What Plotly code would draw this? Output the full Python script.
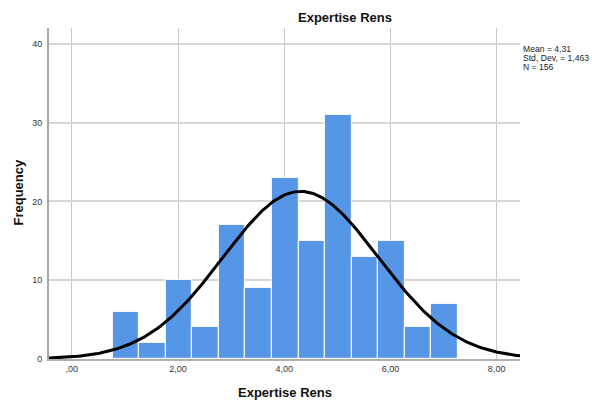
import numpy as np
import plotly.graph_objects as go

# Histogram of "Expertise Rens": bin edges start at 0.77, width 0.5
bin_start = 0.77
bin_width = 0.5
counts = [6, 2, 10, 4, 17, 9, 23, 15, 31, 13, 15, 4, 7]

# Descriptive statistics shown in the legend box
mean_val = 4.31
std_val = 1.463
n_val = 156

x_ticks = [0, 2, 4, 6, 8]
x_tick_text = [",00", "2,00", "4,00", "6,00", "8,00"]
y_ticks = [0, 10, 20, 30, 40]

x_range = [-0.43, 8.44]
y_range = [0, 42]

centers = [bin_start + bin_width * (i + 0.5) for i in range(len(counts))]

# Fitted normal curve scaled to the histogram counts
xc = np.linspace(x_range[0], x_range[1], 300)
yc = n_val * bin_width / (std_val * np.sqrt(2 * np.pi)) * np.exp(-0.5 * ((xc - mean_val) / std_val) ** 2)

FONT = "Liberation Sans, Arial, sans-serif"
STAT_X = (521 - 49) / 471  # left edge of the statistics block, in paper units

fig = go.Figure()
fig.add_trace(go.Bar(
    x=centers, y=counts, width=bin_width,
    marker=dict(color="#5596e6", line=dict(color="rgba(255,255,255,0.85)", width=1.2)),
    hoverinfo="x+y", showlegend=False,
))
fig.add_trace(go.Scatter(
    x=xc, y=yc, mode="lines",
    line=dict(color="black", width=3),
    hoverinfo="skip", showlegend=False,
))

stat_lines = [
    (f"Mean = {mean_val:.2f}".replace(".", ","), 49),
    (f"Std. Dev. = {std_val:.3f}".replace(".", ","), 58),
    (f"N = {n_val}", 67),
]

fig.update_layout(
    width=592, height=403,
    margin=dict(l=49, r=72, t=28, b=44),
    paper_bgcolor="white", plot_bgcolor="white",
    font=dict(family=FONT, color="#333333"),
    bargap=0,
    title=dict(
        text="<b>Expertise Rens</b>", x=345 / 592, xanchor="center",
        y=1 - 17.5 / 403, yanchor="middle", yref="container",
        font=dict(size=13, color="#111111", family=FONT),
    ),
    xaxis=dict(
        range=x_range, tickvals=x_ticks, ticktext=x_tick_text,
        showgrid=True, gridcolor="#c8c8c8", gridwidth=1,
        zeroline=False, showline=True, linecolor="#b0b0b0", linewidth=2,
        ticks="", tickfont=dict(size=9, color="#333333", family=FONT),
    ),
    yaxis=dict(
        range=y_range, tickvals=y_ticks,
        showgrid=True, gridcolor="#d6d6d6", gridwidth=1.5,
        zeroline=False, showline=True, linecolor="#a8a8a8", linewidth=2,
        ticks="", ticklabelstandoff=3,
        tickfont=dict(size=9, color="#333333", family=FONT),
    ),
    annotations=[
        dict(text="<b>Expertise Rens</b>", x=0.5, xref="paper", y=0, yref="paper",
             yanchor="middle", yshift=-33, showarrow=False,
             font=dict(size=13, color="#111111", family=FONT)),
        dict(text="<b>Frequency</b>", x=0, xref="paper", y=(359 - 192.5) / 331, yref="paper",
             xanchor="center", yanchor="middle", xshift=-31, textangle=-90, showarrow=False,
             font=dict(size=13, color="#111111", family=FONT)),
    ] + [
        dict(text=txt, x=STAT_X, xref="paper", y=(359 - ypx) / 331, yref="paper",
             xanchor="left", yanchor="middle", showarrow=False,
             font=dict(size=8.6, color="#222222", family=FONT))
        for txt, ypx in stat_lines
    ],
)

fig.write_html("out.html")
